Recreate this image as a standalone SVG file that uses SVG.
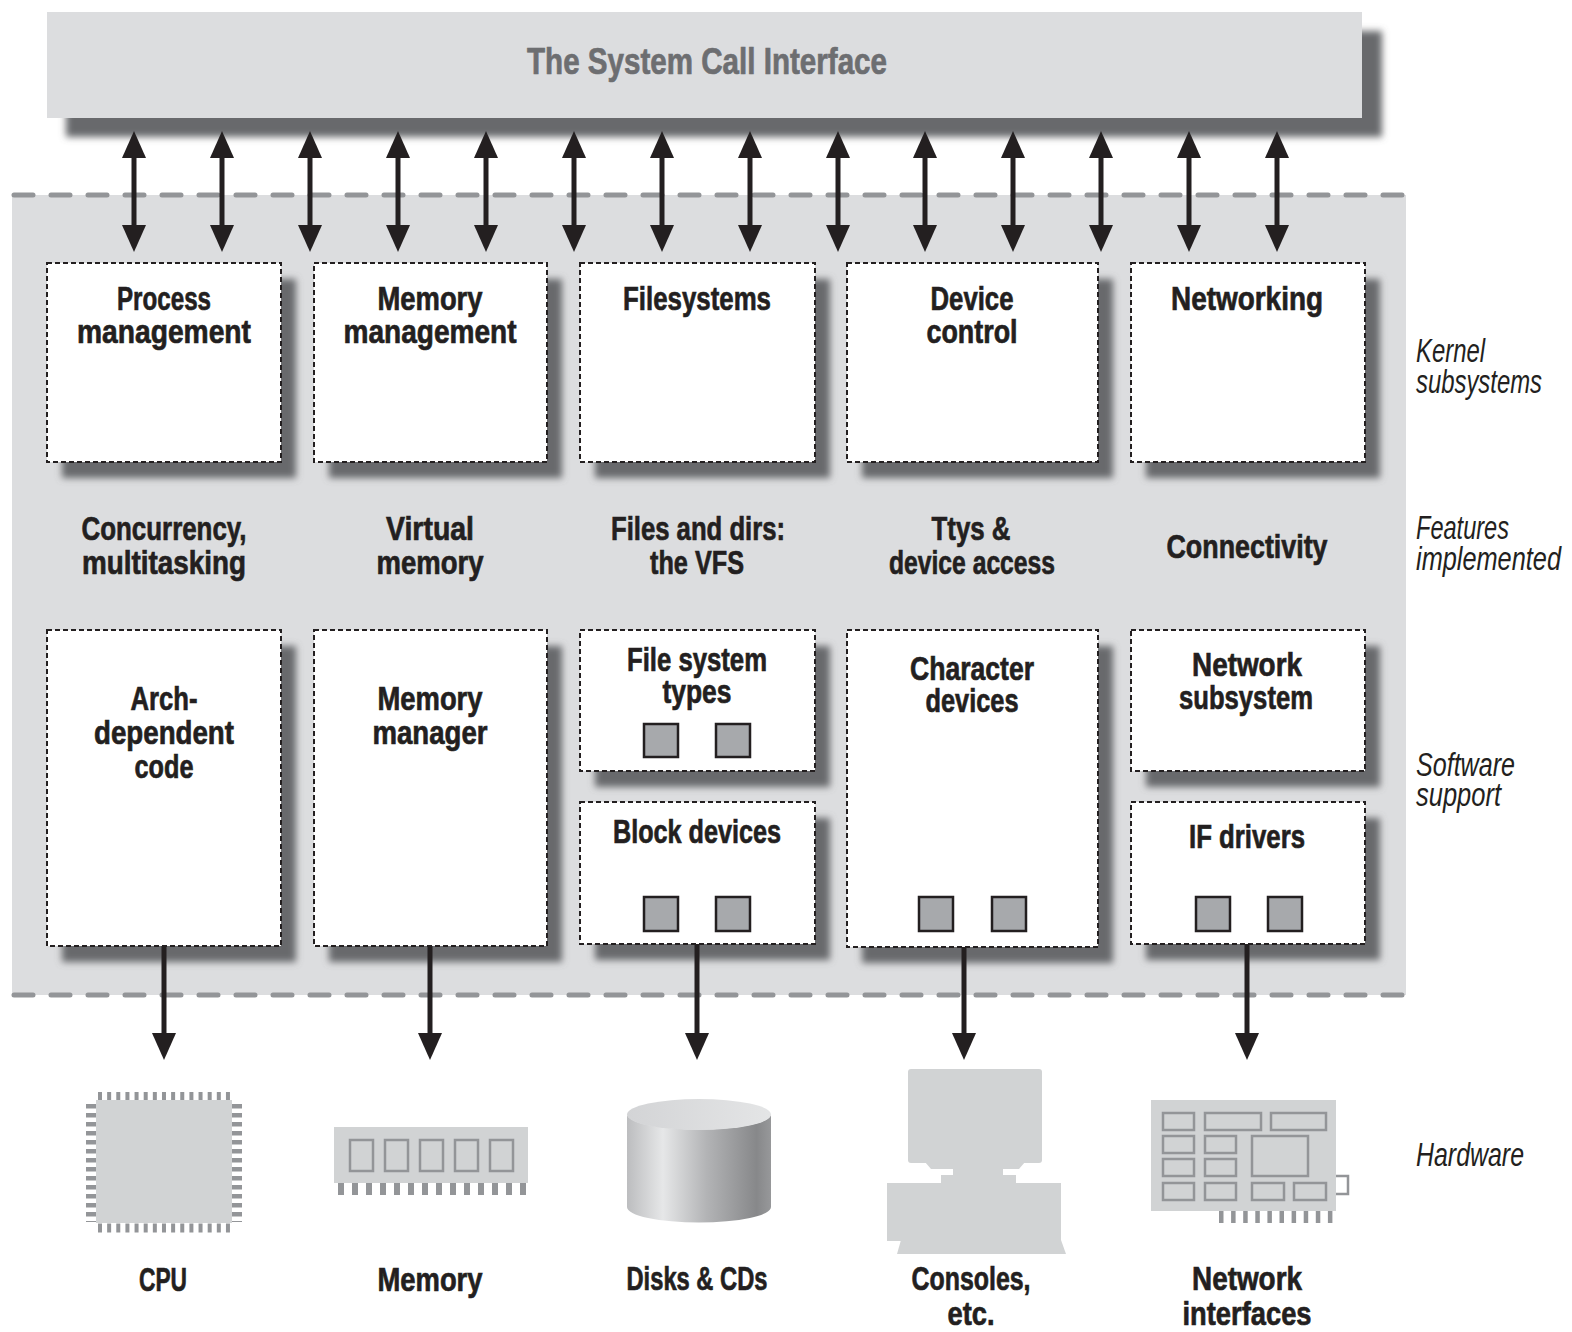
<svg xmlns="http://www.w3.org/2000/svg" width="1572" height="1332" viewBox="0 0 1572 1332">
<defs>
<style>
.t{font-family:"Liberation Sans",Arial,sans-serif;font-weight:bold;font-size:34px;fill:#231f20;stroke:#231f20;stroke-width:0.7;text-anchor:middle}
.title{font-size:36px;fill:#6d6e71;stroke:#6d6e71}
.side{font-family:"Liberation Sans",Arial,sans-serif;font-style:italic;font-size:33px;fill:#231f20}
.box{fill:#fff;stroke:#231f20;stroke-width:2;stroke-dasharray:5 3}
.shadow{fill:#68696c;filter:url(#blur)}
.sq{fill:#a7a9ac;stroke:#231f20;stroke-width:2.5}
.hw{fill:#d1d3d4}
.pin{stroke:#939598;fill:none}
.chip{fill:none;stroke:#939598;stroke-width:2.5}
.arr{stroke:#231f20;stroke-width:5;fill:none}
.dash{stroke:#939598;stroke-width:5;stroke-dasharray:19 18;stroke-linecap:round}
</style>
<filter id="blur" x="-20%" y="-20%" width="140%" height="140%"><feGaussianBlur stdDeviation="3.5"/></filter>
<marker id="ah" viewBox="0 0 27 24" refX="1" refY="12" markerWidth="27" markerHeight="24" markerUnits="userSpaceOnUse" orient="auto-start-reverse"><path d="M0,0 L27,12 L0,24 Z" fill="#231f20"/></marker>
<linearGradient id="cyl" x1="0" y1="0" x2="1" y2="0">
<stop offset="0" stop-color="#bcbdbf"/>
<stop offset="0.25" stop-color="#e6e7e8"/>
<stop offset="0.55" stop-color="#b3b4b6"/>
<stop offset="0.9" stop-color="#87888a"/>
<stop offset="1" stop-color="#97989a"/>
</linearGradient>
<linearGradient id="cyltop" x1="0" y1="0" x2="1" y2="0">
<stop offset="0" stop-color="#d3d4d6"/>
<stop offset="1" stop-color="#e4e5e6"/>
</linearGradient>
</defs>
<rect width="1572" height="1332" fill="#fff"/>

<!-- kernel band -->
<rect x="12" y="195" width="1394" height="800" fill="#dcdddf"/>
<line class="dash" x1="14" y1="195" x2="1406" y2="195"/>
<line class="dash" x1="14" y1="995" x2="1406" y2="995"/>

<!-- system call interface -->
<g id="syscall">
<rect class="shadow" x="66" y="31" width="1316" height="106"/>
<rect x="47" y="12" width="1315" height="106" fill="#dcdddf"/>
<text class="t title" x="707" y="74" textLength="360" lengthAdjust="spacingAndGlyphs">The System Call Interface</text>
</g>

<!-- row 1: kernel subsystems -->
<g id="process-management">
<rect class="shadow" x="62" y="279" width="234" height="199"/>
<rect class="box" x="47" y="263" width="234" height="199"/>
<text class="t" x="164" y="310" textLength="94" lengthAdjust="spacingAndGlyphs">Process</text>
<text class="t" x="164" y="343" textLength="174" lengthAdjust="spacingAndGlyphs">management</text>
</g>
<g id="memory-management">
<rect class="shadow" x="329" y="279" width="233" height="199"/>
<rect class="box" x="314" y="263" width="233" height="199"/>
<text class="t" x="430" y="310" textLength="105" lengthAdjust="spacingAndGlyphs">Memory</text>
<text class="t" x="430" y="343" textLength="173" lengthAdjust="spacingAndGlyphs">management</text>
</g>
<g id="filesystems">
<rect class="shadow" x="595" y="279" width="235" height="199"/>
<rect class="box" x="580" y="263" width="235" height="199"/>
<text class="t" x="697" y="310" textLength="148" lengthAdjust="spacingAndGlyphs">Filesystems</text>
</g>
<g id="device-control">
<rect class="shadow" x="862" y="279" width="251" height="199"/>
<rect class="box" x="847" y="263" width="251" height="199"/>
<text class="t" x="972" y="310" textLength="83" lengthAdjust="spacingAndGlyphs">Device</text>
<text class="t" x="972" y="343" textLength="91" lengthAdjust="spacingAndGlyphs">control</text>
</g>
<g id="networking">
<rect class="shadow" x="1146" y="279" width="234" height="199"/>
<rect class="box" x="1131" y="263" width="234" height="199"/>
<text class="t" x="1247" y="310" textLength="152" lengthAdjust="spacingAndGlyphs">Networking</text>
</g>

<!-- features -->
<g id="feat-concurrency">
<text class="t" x="164" y="540" textLength="165" lengthAdjust="spacingAndGlyphs">Concurrency,</text>
<text class="t" x="164" y="574" textLength="164" lengthAdjust="spacingAndGlyphs">multitasking</text>
</g>
<g id="feat-virtual-memory">
<text class="t" x="430" y="540" textLength="88" lengthAdjust="spacingAndGlyphs">Virtual</text>
<text class="t" x="430" y="574" textLength="107" lengthAdjust="spacingAndGlyphs">memory</text>
</g>
<g id="feat-vfs">
<text class="t" x="698" y="540" textLength="174" lengthAdjust="spacingAndGlyphs">Files and dirs:</text>
<text class="t" x="697" y="574" textLength="94" lengthAdjust="spacingAndGlyphs">the VFS</text>
</g>
<g id="feat-ttys">
<text class="t" x="971" y="540" textLength="79" lengthAdjust="spacingAndGlyphs">Ttys &amp;</text>
<text class="t" x="972" y="574" textLength="166" lengthAdjust="spacingAndGlyphs">device access</text>
</g>
<g id="feat-connectivity">
<text class="t" x="1247" y="558" textLength="161" lengthAdjust="spacingAndGlyphs">Connectivity</text>
</g>

<!-- row 2: software support -->
<g id="arch-code">
<rect class="shadow" x="62" y="646" width="234" height="316"/>
<rect class="box" x="47" y="630" width="234" height="316"/>
<text class="t" x="164" y="710" textLength="67" lengthAdjust="spacingAndGlyphs">Arch-</text>
<text class="t" x="164" y="744" textLength="140" lengthAdjust="spacingAndGlyphs">dependent</text>
<text class="t" x="164" y="778" textLength="59" lengthAdjust="spacingAndGlyphs">code</text>
</g>
<g id="memory-manager">
<rect class="shadow" x="329" y="646" width="233" height="316"/>
<rect class="box" x="314" y="630" width="233" height="316"/>
<text class="t" x="430" y="710" textLength="105" lengthAdjust="spacingAndGlyphs">Memory</text>
<text class="t" x="430" y="744" textLength="115" lengthAdjust="spacingAndGlyphs">manager</text>
</g>
<g id="fs-types">
<rect class="shadow" x="595" y="646" width="235" height="141"/>
<rect class="box" x="580" y="630" width="235" height="141"/>
<text class="t" x="697" y="671" textLength="140" lengthAdjust="spacingAndGlyphs">File system</text>
<text class="t" x="697" y="703" textLength="69" lengthAdjust="spacingAndGlyphs">types</text>
<rect class="sq" x="644" y="724" width="34" height="33"/>
<rect class="sq" x="716" y="724" width="34" height="33"/>
</g>
<g id="block-devices">
<rect class="shadow" x="595" y="818" width="235" height="142"/>
<rect class="box" x="580" y="802" width="235" height="142"/>
<text class="t" x="697" y="843" textLength="168" lengthAdjust="spacingAndGlyphs">Block devices</text>
<rect class="sq" x="644" y="897" width="34" height="34"/>
<rect class="sq" x="716" y="897" width="34" height="34"/>
</g>
<g id="char-devices">
<rect class="shadow" x="862" y="646" width="251" height="317"/>
<rect class="box" x="847" y="630" width="251" height="317"/>
<text class="t" x="972" y="680" textLength="124" lengthAdjust="spacingAndGlyphs">Character</text>
<text class="t" x="972" y="712" textLength="93" lengthAdjust="spacingAndGlyphs">devices</text>
<rect class="sq" x="919" y="897" width="34" height="34"/>
<rect class="sq" x="992" y="897" width="34" height="34"/>
</g>
<g id="network-subsystem">
<rect class="shadow" x="1146" y="646" width="234" height="141"/>
<rect class="box" x="1131" y="630" width="234" height="141"/>
<text class="t" x="1247" y="676" textLength="110" lengthAdjust="spacingAndGlyphs">Network</text>
<text class="t" x="1246" y="709" textLength="134" lengthAdjust="spacingAndGlyphs">subsystem</text>
</g>
<g id="if-drivers">
<rect class="shadow" x="1146" y="818" width="234" height="142"/>
<rect class="box" x="1131" y="802" width="234" height="142"/>
<text class="t" x="1247" y="848" textLength="116" lengthAdjust="spacingAndGlyphs">IF drivers</text>
<rect class="sq" x="1196" y="897" width="34" height="34"/>
<rect class="sq" x="1268" y="897" width="34" height="34"/>
</g>

<!-- connectors -->
<g id="connectors" class="arr">
<line x1="134" y1="157" x2="134" y2="226" marker-start="url(#ah)" marker-end="url(#ah)"/>
<line x1="222" y1="157" x2="222" y2="226" marker-start="url(#ah)" marker-end="url(#ah)"/>
<line x1="310" y1="157" x2="310" y2="226" marker-start="url(#ah)" marker-end="url(#ah)"/>
<line x1="398" y1="157" x2="398" y2="226" marker-start="url(#ah)" marker-end="url(#ah)"/>
<line x1="486" y1="157" x2="486" y2="226" marker-start="url(#ah)" marker-end="url(#ah)"/>
<line x1="574" y1="157" x2="574" y2="226" marker-start="url(#ah)" marker-end="url(#ah)"/>
<line x1="662" y1="157" x2="662" y2="226" marker-start="url(#ah)" marker-end="url(#ah)"/>
<line x1="750" y1="157" x2="750" y2="226" marker-start="url(#ah)" marker-end="url(#ah)"/>
<line x1="838" y1="157" x2="838" y2="226" marker-start="url(#ah)" marker-end="url(#ah)"/>
<line x1="925" y1="157" x2="925" y2="226" marker-start="url(#ah)" marker-end="url(#ah)"/>
<line x1="1013" y1="157" x2="1013" y2="226" marker-start="url(#ah)" marker-end="url(#ah)"/>
<line x1="1101" y1="157" x2="1101" y2="226" marker-start="url(#ah)" marker-end="url(#ah)"/>
<line x1="1189" y1="157" x2="1189" y2="226" marker-start="url(#ah)" marker-end="url(#ah)"/>
<line x1="1277" y1="157" x2="1277" y2="226" marker-start="url(#ah)" marker-end="url(#ah)"/>
<line x1="164" y1="946" x2="164" y2="1034" marker-end="url(#ah)"/>
<line x1="430" y1="946" x2="430" y2="1034" marker-end="url(#ah)"/>
<line x1="697" y1="944" x2="697" y2="1034" marker-end="url(#ah)"/>
<line x1="964" y1="947" x2="964" y2="1034" marker-end="url(#ah)"/>
<line x1="1247" y1="944" x2="1247" y2="1034" marker-end="url(#ah)"/>
</g>

<!-- side labels -->
<g id="side-labels">
<text class="side" x="1416" y="362" textLength="69" lengthAdjust="spacingAndGlyphs">Kernel</text>
<text class="side" x="1416" y="393" textLength="126" lengthAdjust="spacingAndGlyphs">subsystems</text>
<text class="side" x="1416" y="539" textLength="93" lengthAdjust="spacingAndGlyphs">Features</text>
<text class="side" x="1416" y="570" textLength="145" lengthAdjust="spacingAndGlyphs">implemented</text>
<text class="side" x="1416" y="776" textLength="99" lengthAdjust="spacingAndGlyphs">Software</text>
<text class="side" x="1416" y="806" textLength="85" lengthAdjust="spacingAndGlyphs">support</text>
<text class="side" x="1416" y="1166" textLength="108" lengthAdjust="spacingAndGlyphs">Hardware</text>
</g>

<!-- hardware -->
<g id="hw-cpu">
<line class="pin" x1="98" y1="1096" x2="232" y2="1096" stroke-width="8" stroke-dasharray="4 5.14"/>
<line class="pin" x1="98" y1="1228" x2="232" y2="1228" stroke-width="9" stroke-dasharray="4 5.14"/>
<line class="pin" x1="91" y1="1104" x2="91" y2="1222" stroke-width="10" stroke-dasharray="4.5 4.5"/>
<line class="pin" x1="237" y1="1104" x2="237" y2="1222" stroke-width="10" stroke-dasharray="4.5 4.5"/>
<rect class="hw" x="96" y="1100" width="136" height="123"/>
<text class="t" x="163" y="1291" textLength="48" lengthAdjust="spacingAndGlyphs">CPU</text>
</g>
<g id="hw-memory">
<rect class="hw" x="334" y="1127" width="194" height="56"/>
<rect class="chip" x="350" y="1140" width="23" height="31"/>
<rect class="chip" x="385" y="1140" width="23" height="31"/>
<rect class="chip" x="420" y="1140" width="23" height="31"/>
<rect class="chip" x="455" y="1140" width="23" height="31"/>
<rect class="chip" x="490" y="1140" width="23" height="31"/>
<line class="pin" x1="338" y1="1189" x2="526" y2="1189" stroke-width="12" stroke-dasharray="6 8"/>
<text class="t" x="430" y="1291" textLength="105" lengthAdjust="spacingAndGlyphs">Memory</text>
</g>
<g id="hw-disks">
<path d="M627,1114 V1207 A72,15.5 0 0 0 771,1207 V1114 A72,15.5 0 0 1 627,1114 Z" fill="url(#cyl)"/>
<ellipse cx="699" cy="1114.5" rx="72" ry="15.5" fill="url(#cyltop)"/>
<text class="t" x="697" y="1290" textLength="141" lengthAdjust="spacingAndGlyphs">Disks &amp; CDs</text>
</g>
<g id="hw-consoles">
<rect class="hw" x="908" y="1069" width="134" height="94" rx="3"/>
<polygon class="hw" points="925,1162 1025,1162 1019,1169 931,1169"/>
<rect class="hw" x="953" y="1168" width="50" height="8"/>
<rect class="hw" x="941" y="1175" width="75" height="9"/>
<rect class="hw" x="887" y="1183" width="174" height="58"/>
<polygon class="hw" points="901,1240 1061,1240 1066,1254 897,1254"/>
<text class="t" x="971" y="1290" textLength="119" lengthAdjust="spacingAndGlyphs">Consoles,</text>
<text class="t" x="971" y="1325" textLength="47" lengthAdjust="spacingAndGlyphs">etc.</text>
</g>
<g id="hw-network">
<rect class="hw" x="1151" y="1100" width="185" height="111"/>
<path class="chip" d="M1336,1176 H1348 V1194 H1336"/>
<rect class="chip" x="1163" y="1113" width="31" height="17"/>
<rect class="chip" x="1205" y="1113" width="56" height="17"/>
<rect class="chip" x="1271" y="1113" width="55" height="17"/>
<rect class="chip" x="1163" y="1136" width="31" height="17"/>
<rect class="chip" x="1205" y="1136" width="31" height="17"/>
<rect class="chip" x="1163" y="1159" width="31" height="17"/>
<rect class="chip" x="1205" y="1159" width="31" height="17"/>
<rect class="chip" x="1252" y="1136" width="56" height="40"/>
<rect class="chip" x="1163" y="1183" width="31" height="17"/>
<rect class="chip" x="1205" y="1183" width="31" height="17"/>
<rect class="chip" x="1252" y="1183" width="32" height="17"/>
<rect class="chip" x="1294" y="1183" width="32" height="17"/>
<line class="pin" x1="1219" y1="1217" x2="1333" y2="1217" stroke-width="12" stroke-dasharray="4.5 7.6"/>
<text class="t" x="1247" y="1290" textLength="110" lengthAdjust="spacingAndGlyphs">Network</text>
<text class="t" x="1247" y="1325" textLength="129" lengthAdjust="spacingAndGlyphs">interfaces</text>
</g>
</svg>
